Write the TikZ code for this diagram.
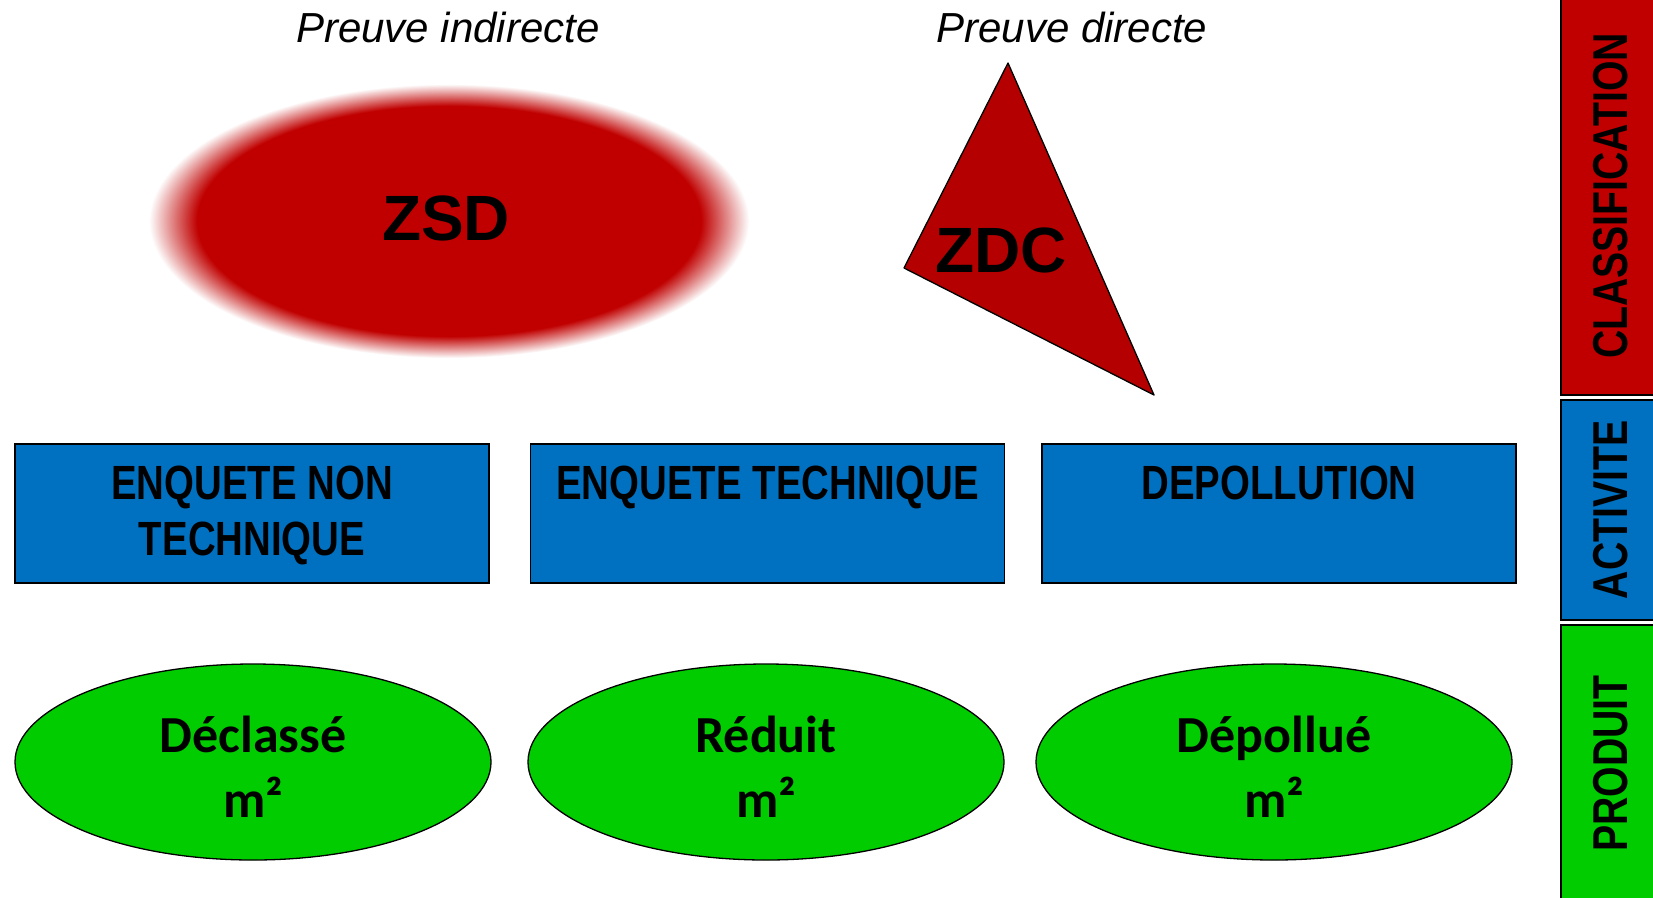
\documentclass[tikz,border=0pt]{standalone}
\usepackage{fontspec}
\setmainfont{Liberation Sans}
\newfontfamily\narrowfont{Liberation Sans}[FakeStretch=0.8]
\newfontfamily\carlitofont{Carlito}
\usetikzlibrary{shapes.geometric,positioning}
\definecolor{ZoneRed}{RGB}{192, 0, 0}
\definecolor{TriRed}{RGB}{180, 0, 0}
\definecolor{ActBlue}{RGB}{0, 112, 192}
\definecolor{ProdGreen}{RGB}{0, 204, 0}
\pgfdeclareradialshading{zsdblur}{\pgfpointorigin}{color(0bp)=(ZoneRed); color(21bp)=(ZoneRed); color(25bp)=(white); color(50bp)=(white)}

\begin{document}
\begin{tikzpicture}[x=1pt, y=-1pt,
    actbox/.style={draw=black, line width=1.5pt, fill=ActBlue, minimum width=474pt, minimum height=139pt, inner sep=0pt},
    acttext/.style={font=\narrowfont\bfseries\fontsize{48}{56}\selectfont, align=center, inner sep=0pt},
    prodell/.style={ellipse, draw=black, line width=1.3pt, fill=ProdGreen, minimum width=476pt, minimum height=196pt, inner sep=0pt},
    prodtext/.style={align=center, inner sep=0pt, font=\carlitofont\bfseries\fontsize{52}{65}\selectfont},
    sidebar/.style={draw=black, line width=1.5pt, rotate=90, minimum height=100pt, inner sep=0pt, font=\narrowfont\bfseries\fontsize{49}{56}\selectfont},
    proof/.style={font=\itshape\fontsize{42}{50}\selectfont, anchor=base, inner sep=0pt},
    zone/.style={font=\bfseries\fontsize{64}{70}\selectfont, anchor=base, inner sep=0pt}]
    \fill[white] (0,0) rectangle (1653,897);
    \useasboundingbox (0,0) rectangle (1653,897);

    % Classification
    \node[proof] (indirect) at (448,42) {Preuve indirecte};
    \node[proof] (direct) at (1072,42) {Preuve directe};
    \shade[shading=zsdblur] (449,221) ellipse [x radius=300, y radius=137];
    \node[zone] (zsd) at (446,240) {ZSD};
    \draw[fill=TriRed, line width=1.3pt, line join=round] (1008,63) -- (904,268) -- (1154,395) -- cycle;
    \node[zone] (zdc) at (1001,272) {ZDC};

    % Activite
    \node[actbox] (enqnt) at (252,513.5) {};
    \node[actbox] (enqt) at (767.5,513.5) {};
    \node[actbox] (depol) at (1279,513.5) {};
    \node[acttext, below=23pt of enqnt.north] (enqntlbl) {ENQUETE NON\\TECHNIQUE};
    \node[acttext, below=23pt of enqt.north] (enqtlbl) {ENQUETE TECHNIQUE};
    \node[acttext, below=23pt of depol.north] (depollbl) {DEPOLLUTION};

    % Produit
    \node[prodell] (declasse) at (253,762) {};
    \node[prodell] (reduit) at (766,762) {};
    \node[prodell] (depollue) at (1274,762) {};
    \node[prodtext] (declbl) at ([yshift=-5pt]declasse.center) {Déclassé\\m²};
    \node[prodtext] (redlbl) at ([yshift=-5pt]reduit.center) {Réduit\\m²};
    \node[prodtext] (deplbl) at ([yshift=-5pt]depollue.center) {Dépollué\\m²};

    % Side bars
    \node[sidebar, fill=ZoneRed, minimum width=398pt] (clsbar) at (1611,196) {CLASSIFICATION};
    \node[sidebar, fill=ActBlue, minimum width=220pt] (actbar) at (1611,510) {ACTIVITE};
    \node[sidebar, fill=ProdGreen, minimum width=277pt] (prodbar) at (1611,763.5) {PRODUIT};
\end{tikzpicture}
\end{document}
